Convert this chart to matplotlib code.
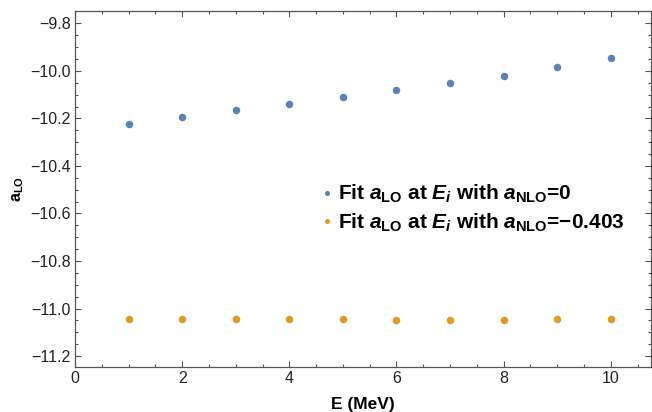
import matplotlib
matplotlib.use("Agg")
import matplotlib.pyplot as plt
from matplotlib.ticker import MultipleLocator, FuncFormatter
from matplotlib.lines import Line2D

plt.rcParams["font.family"] = ["Liberation Sans", "DejaVu Sans"]
plt.rcParams["mathtext.fontset"] = "custom"
plt.rcParams["mathtext.rm"] = "Liberation Sans:bold"
plt.rcParams["mathtext.it"] = "Liberation Sans:bold:italic"
plt.rcParams["mathtext.bf"] = "Liberation Sans:bold"

# Energies (MeV) and fitted LO scattering lengths
energy = [1, 2, 3, 4, 5, 6, 7, 8, 9, 10]
a_lo_nlo0 = [-10.222, -10.192, -10.166, -10.140, -10.108,
             -10.082, -10.053, -10.023, -9.985, -9.946]
a_lo_nlo403 = [-11.042, -11.042, -11.042, -11.045, -11.045,
               -11.048, -11.048, -11.048, -11.045, -11.042]

labels = [r"Fit $a_{\mathrm{LO}}$ at $E_i$ with $a_{\mathrm{NLO}}$=0",
          r"Fit $a_{\mathrm{LO}}$ at $E_i$ with $a_{\mathrm{NLO}}$=−0.403"]

blue = "#5E81B5"
orange = "#E19C24"
frame = "#555555"

fig = plt.figure(figsize=(6.52, 4.12), dpi=100)
ax = fig.add_axes([75 / 652, 45 / 412, 576 / 652, 356 / 412])

ax.plot(energy, a_lo_nlo0, "o", color=blue, markersize=5.4, markeredgewidth=0)
ax.plot(energy, a_lo_nlo403, "o", color=orange, markersize=5.4, markeredgewidth=0)

ax.set_xlim(0, 10.75)
ax.set_ylim(-11.246, -9.748)

ax.xaxis.set_major_locator(MultipleLocator(2))
ax.xaxis.set_minor_locator(MultipleLocator(0.5))
ax.yaxis.set_major_locator(MultipleLocator(0.2))
ax.yaxis.set_minor_locator(MultipleLocator(0.05))
ax.yaxis.set_major_formatter(FuncFormatter(lambda v, p: f"{v:.1f}".replace("-", "−")))

for s in ax.spines.values():
    s.set_color(frame)
    s.set_linewidth(0.9)

ax.tick_params(which="both", direction="in", top=True, right=True,
               color=frame, labelsize=11.5, labelcolor="#222222", width=0.8)
ax.tick_params(which="major", length=4, pad=3)
ax.tick_params(which="minor", length=2.3)

ax.set_xlabel("E (MeV)", fontsize=12.5, fontweight="bold", labelpad=8)
ax.set_ylabel(r"$\mathrm{a}_{\mathrm{LO}}$", fontsize=11.5, labelpad=3)

handles = [Line2D([], [], ls="none", marker="o", color=blue, markersize=2.6),
           Line2D([], [], ls="none", marker="o", color=orange, markersize=2.6)]
ax.legend(handles, labels, loc="upper left", bbox_to_anchor=(321 / 652, 1 - 183 / 412),
          bbox_transform=fig.transFigure, frameon=False,
          prop={"size": 15, "weight": "bold"},
          handlelength=0.55, handletextpad=0.25, borderpad=0, borderaxespad=0,
          labelspacing=0.3)

fig.savefig("out.png", dpi=100)
